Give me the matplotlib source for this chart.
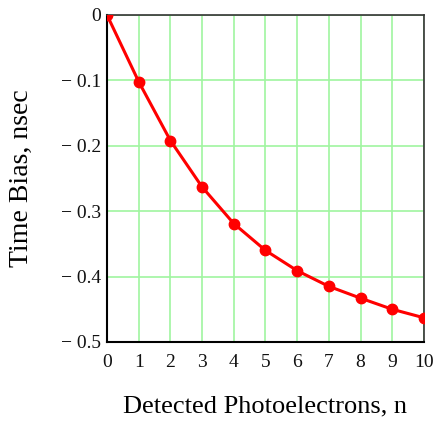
import matplotlib
matplotlib.use("Agg")
import matplotlib.pyplot as plt

# Mean time bias versus number of detected photoelectrons
n_pe = [0, 1, 2, 3, 4, 5, 6, 7, 8, 9, 10]
bias_ns = [0.0, -0.102, -0.192, -0.263, -0.319, -0.360, -0.391, -0.415, -0.433, -0.450, -0.463]

x_ticks = list(range(0, 11))
y_ticks = [0, -0.1, -0.2, -0.3, -0.4, -0.5]
y_tick_labels = ["0", "\u2212 0.1", "\u2212 0.2", "\u2212 0.3", "\u2212 0.4", "\u2212 0.5"]

plt.rcParams["font.family"] = ["Liberation Serif", "DejaVu Serif"]

fig = plt.figure(figsize=(4.4, 4.22), dpi=100)
ax = fig.add_axes([0.2432, 0.1896, 0.7204, 0.7749])

ax.plot(n_pe, bias_ns, color="#ff0000", lw=2.2, marker="o", ms=7.5, zorder=3, clip_on=True)

ax.set_xlim(0, 10)
ax.set_ylim(-0.5, 0)
ax.set_xticks(x_ticks)
ax.set_xticklabels([str(t) for t in x_ticks])
ax.set_yticks(y_ticks)
ax.set_yticklabels(y_tick_labels)
ax.tick_params(axis="x", length=0, labelsize=14, pad=9, colors="#111111")
ax.tick_params(axis="y", length=0, labelsize=14, pad=4, colors="#111111")

ax.grid(True, color="#a0f5a0", lw=1.2)
ax.set_axisbelow(True)

for side in ("left", "bottom"):
    ax.spines[side].set_color("#000000")
    ax.spines[side].set_linewidth(1.5)
for side in ("top", "right"):
    ax.spines[side].set_color("#333333")
    ax.spines[side].set_linewidth(1.2)

ax.set_xlabel("Detected Photoelectrons, n", fontsize=19, labelpad=17)
ax.set_ylabel("Time Bias, nsec", fontsize=20, labelpad=20)

fig.savefig("out.png", dpi=100)
